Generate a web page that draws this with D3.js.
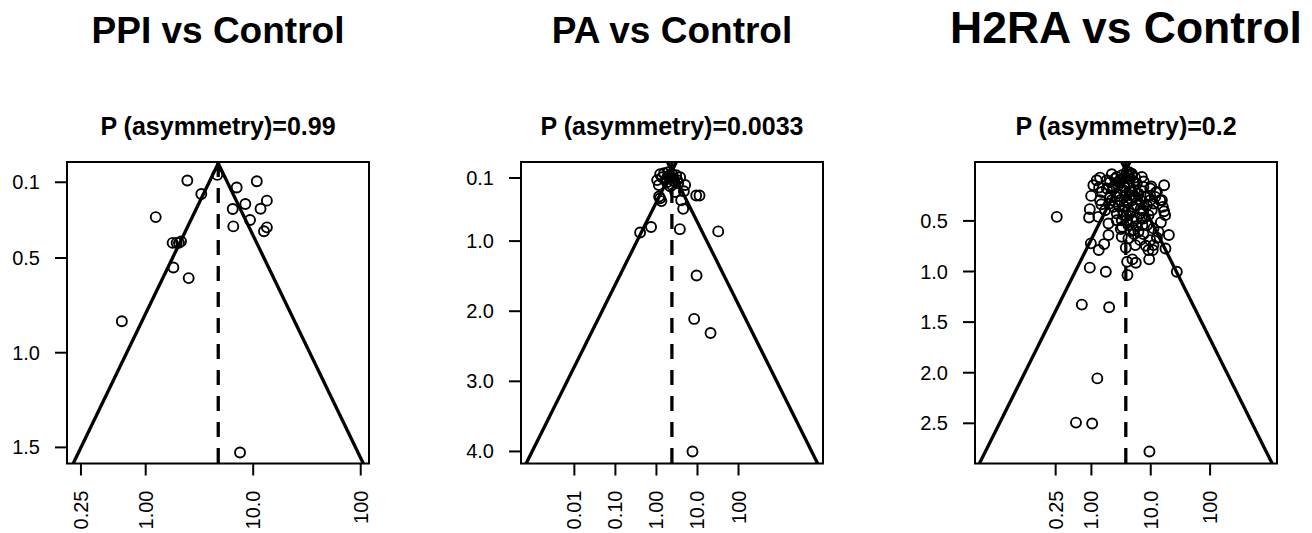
<!DOCTYPE html>
<html lang="en">
<head>
    <meta charset="UTF-8">
    <title>Funnel plots</title>
    <script src="https://d3js.org/d3.v7.min.js"></script>
    <style>
        body {
            margin: 0;
            padding: 0;
            background: #fff;
        }
        svg text {
            font-family: "Liberation Sans", Arial, sans-serif;
            fill: #000;
        }
    </style>
</head>
<body>
<svg id="chart" width="1312" height="533"></svg>

<script>
    // Titles
    var titles = ["PPI vs Control", "PA vs Control", "H2RA vs Control"];
    var subtitles = ["P (asymmetry)=0.99", "P (asymmetry)=0.0033", "P (asymmetry)=0.2"];

    // Pooled odds ratios (apex of each funnel)
    var pooled = [4.73, 2.38, 3.80];

    // PPI vs Control: odds ratio and standard error per study
    var ppiOR = [4.63, 2.44, 10.8, 7.02, 3.29, 13.4, 8.45, 6.45, 11.7, 1.24, 9.34,
                 6.53, 13.4, 12.6, 1.78, 1.94, 2.13, 2.04, 1.81, 2.51, 0.60, 7.54];
    var ppiSE = [0.061, 0.091, 0.095, 0.128, 0.162, 0.197, 0.215, 0.241, 0.240, 0.284, 0.299,
                 0.333, 0.338, 0.359, 0.420, 0.420, 0.412, 0.420, 0.550, 0.606, 0.834, 1.527];

    // PA vs Control
    var paOR = [9.5, 8.3, 20.8, 7.55, 32, 3.72, 0.40, 0.74, 4.48, 4.0, 1.32, 1.16, 9.3, 11.2,
                1.14, 4.66, 1.23, 1.54, 1.93, 2.41, 3.02, 3.78, 1.72, 2.70, 3.38, 1.38, 2.16,
                5.0, 2.37, 2.86, 1.23, 1.93, 1.04, 2.1, 2.6, 3.2, 1.8];
    var paSE = [1.49, 2.11, 2.31, 4.00, 0.862, 0.83, 0.877, 0.80, 0.54, 0.417, 0.43, 0.364, 0.35, 0.35,
                0.20, 0.29, 0.047, 0.033, 0.018, 0.047, 0.061, 0.09, 0.118, 0.147, 0.175, 0.09, 0.218,
                0.20, 0.20, 0.30, 0.39, 0.075, 0.13, 0.06, 0.10, 0.13, 0.16];

    // H2RA vs Control
    var h2raOR = [0.261, 0.94, 0.914, 0.99, 1.40, 1.35, 1.47, 1.31, 1.94, 1.94, 1.64, 1.33, 0.98,
                  0.94, 1.75, 0.69, 1.99, 1.26, 0.55, 1.03, 9.5, 4.05, 4.0, 5.6, 4.91, 3.80, 5.5,
                  3.13, 5.25, 7.53, 8.27, 9.15, 10.8, 9.4, 12.7, 17.7, 20.2, 14.8, 16.8, 16.0, 16.8,
                  27.5, 8.6, 9.8, 7.24, 4.21, 5.66, 3.95, 6.63, 9.8, 11.9, 12.7, 9.8, 7.08, 4.8,
                  2.21, 1.82, 2.35, 2.07, 2.35, 2.68, 3.05, 3.46, 4.21, 3.05, 5.45, 6.63, 5.1, 3.70,
                  7.53, 8.6, 5.83, 2.68, 3.95, 4.5, 3.46, 5.83, 7.53, 10.4, 11.1, 14.4, 1.08, 1.50,
                  2.07, 2.51, 3.25, 3.95, 4.5, 5.1, 6.2, 8.0, 2.85, 3.70, 4.8, 4.21, 3.25, 5.1,
                  6.63, 6.2, 7.53, 9.15, 8.6, 5.83, 4.5, 2.21, 1.70, 2.68, 3.25, 4.21, 11.1, 13.5,
                  11.1, 15.4, 17.5, 2.68, 3.46, 4.21, 5.45, 1.82, 1.40, 1.23, 4.3, 4.8, 7.6, 10.2,
                  12.2, 9.8, 3.0, 3.6, 4.4, 5.2, 2.5, 2.9, 3.4, 4.0, 4.7, 6.0, 2.3, 3.9, 5.0, 6.8,
                  3.3, 4.6, 2.0, 7.0];
    var h2raSE = [0.46, 0.384, 0.466, 0.253, 0.072, 0.17, 0.335, 0.46, 0.525, 0.64, 0.729, 0.788, 0.722,
                  0.962, 1.002, 1.327, 1.353, 2.056, 2.493, 2.502, 2.778, 1.034, 0.903, 0.913, 0.88, 0.765, 0.739,
                  0.581, 0.631, 0.631, 0.745, 0.788, 0.788, 0.88, 0.667, 0.772, 0.64, 0.515, 0.404, 0.361, 0.148,
                  1.002, 0.542, 0.69, 0.542, 0.673, 0.552, 0.493, 0.427, 0.296, 0.263, 0.214, 0.18, 0.066, 0.033,
                  0.039, 0.099, 0.164, 0.263, 0.361, 0.427, 0.296, 0.197, 0.131, 0.099, 0.197, 0.296, 0.361, 0.361,
                  0.164, 0.263, 0.131, 0.23, 0.296, 0.427, 0.443, 0.476, 0.394, 0.394, 0.328, 0.296, 0.148, 0.214,
                  0.115, 0.082, 0.049, 0.016, 0.082, 0.115, 0.23, 0.263, 0.148, 0.246, 0.296, 0.394, 0.493, 0.591,
                  0.69, 0.608, 0.476, 0.443, 0.345, 0.345, 0.246, 0.296, 0.394, 0.493, 0.657, 0.542, 0.574, 0.608,
                  0.739, 0.296, 0.443, 0.066, 0.082, 0.059, 0.072, 0.18, 0.296, 0.099, 0.02, 0.05, 0.11, 0.16,
                  0.22, 0.25, 0.12, 0.17, 0.21, 0.26, 0.31, 0.35, 0.40, 0.32, 0.28, 0.23, 0.19, 0.45, 0.50, 0.38,
                  0.56, 0.60, 0.33, 0.47];

    // Axis ticks
    var ppiYTicks = [0.1, 0.5, 1.0, 1.5];
    var paYTicks = [0.1, 1.0, 2.0, 3.0, 4.0];
    var h2raYTicks = [0.5, 1.0, 1.5, 2.0, 2.5];
    var ppiXTicks = [0.25, 1, 10, 100];
    var ppiXLabels = ["0.25", "1.00", "10.0", "100"];
    var paXTicks = [0.01, 0.1, 1, 10, 100];
    var paXLabels = ["0.01", "0.10", "1.00", "10.0", "100"];
    var h2raXTicks = [0.25, 1, 10, 100];
    var h2raXLabels = ["0.25", "1.00", "10.0", "100"];

    var svg = d3.select("#chart");

    // per-panel layout and scale limits
    var panels = [
        { left: 67, xlim: [0.1854, 119.4], ylim: [-0.007, 1.585], titleSize: 37,
          or: ppiOR, se: ppiSE, yTicks: ppiYTicks, xTicks: ppiXTicks, xLabels: ppiXLabels },
        { left: 521, xlim: [0.000501, 11430], ylim: [-0.128, 4.172], titleSize: 37,
          or: paOR, se: paSE, yTicks: paYTicks, xTicks: paXTicks, xLabels: paXLabels },
        { left: 975, xlim: [0.01094, 1340], ylim: [-0.082, 2.897], titleSize: 44.5,
          or: h2raOR, se: h2raSE, yTicks: h2raYTicks, xTicks: h2raXTicks, xLabels: h2raXLabels }
    ];

    var plotTop = 162, plotBottom = 463.5, boxW = 302;

    panels.forEach(function(p, i) {
        var x = d3.scaleLog().domain(p.xlim).range([p.left, p.left + boxW]);
        var y = d3.scaleLinear().domain(p.ylim).range([plotTop, plotBottom]);
        var cx = p.left + boxW / 2;

        var g = svg.append("g");

        // clip to the plot box
        g.append("clipPath").attr("id", "clip" + i)
            .append("rect")
            .attr("x", p.left).attr("y", plotTop)
            .attr("width", boxW).attr("height", plotBottom - plotTop);

        var plot = g.append("g").attr("clip-path", "url(#clip" + i + ")");

        // funnel: pooled log OR +/- 1.96 * SE, crossing above SE = 0
        var lnP = Math.log(pooled[i]);
        [-1, 1].forEach(function(s) {
            var pts = p.ylim.map(function(se) {
                return [x(Math.exp(lnP + s * 1.96 * se)), y(se)];
            });
            plot.append("path")
                .attr("d", d3.line()(pts))
                .attr("fill", "none")
                .attr("stroke", "#000")
                .attr("stroke-width", 3.3);
        });

        // pooled estimate
        plot.append("line")
            .attr("x1", x(pooled[i])).attr("x2", x(pooled[i]))
            .attr("y1", plotTop).attr("y2", plotBottom)
            .attr("stroke", "#000")
            .attr("stroke-width", 3.3)
            .attr("stroke-dasharray", "15,11");

        // studies
        plot.selectAll("circle")
            .data(d3.range(p.or.length))
            .enter().append("circle")
            .attr("cx", function(k) { return x(p.or[k]); })
            .attr("cy", function(k) { return y(p.se[k]); })
            .attr("r", 5)
            .attr("fill", "none")
            .attr("stroke", "#000")
            .attr("stroke-width", 1.9);

        // box
        g.append("rect")
            .attr("x", p.left).attr("y", plotTop)
            .attr("width", boxW).attr("height", plotBottom - plotTop)
            .attr("fill", "none")
            .attr("stroke", "#000")
            .attr("stroke-width", 2);

        // y axis
        p.yTicks.forEach(function(t) {
            g.append("line")
                .attr("x1", p.left - 12).attr("x2", p.left)
                .attr("y1", y(t)).attr("y2", y(t))
                .attr("stroke", "#000").attr("stroke-width", 2);
            g.append("text")
                .attr("x", p.left - 27).attr("y", y(t))
                .attr("dy", "0.35em")
                .attr("text-anchor", "end")
                .style("font-size", "20px")
                .text(d3.format(".1f")(t));
        });

        // x axis
        p.xTicks.forEach(function(t, k) {
            var tx = x(t);
            g.append("line")
                .attr("x1", tx).attr("x2", tx)
                .attr("y1", plotBottom).attr("y2", plotBottom + 12)
                .attr("stroke", "#000").attr("stroke-width", 2);
            g.append("text")
                .attr("transform", "translate(" + tx + "," + (plotBottom + 27) + ") rotate(-90)")
                .attr("dy", "0.35em")
                .attr("text-anchor", "end")
                .style("font-size", "20px")
                .text(p.xLabels[k]);
        });

        // titles
        g.append("text")
            .attr("x", cx).attr("y", 43)
            .attr("text-anchor", "middle")
            .style("font-size", p.titleSize + "px")
            .style("font-weight", "bold")
            .text(titles[i]);

        g.append("text")
            .attr("x", cx).attr("y", 135)
            .attr("text-anchor", "middle")
            .style("font-size", "25px")
            .style("font-weight", "bold")
            .text(subtitles[i]);
    });
</script>
</body>
</html>
